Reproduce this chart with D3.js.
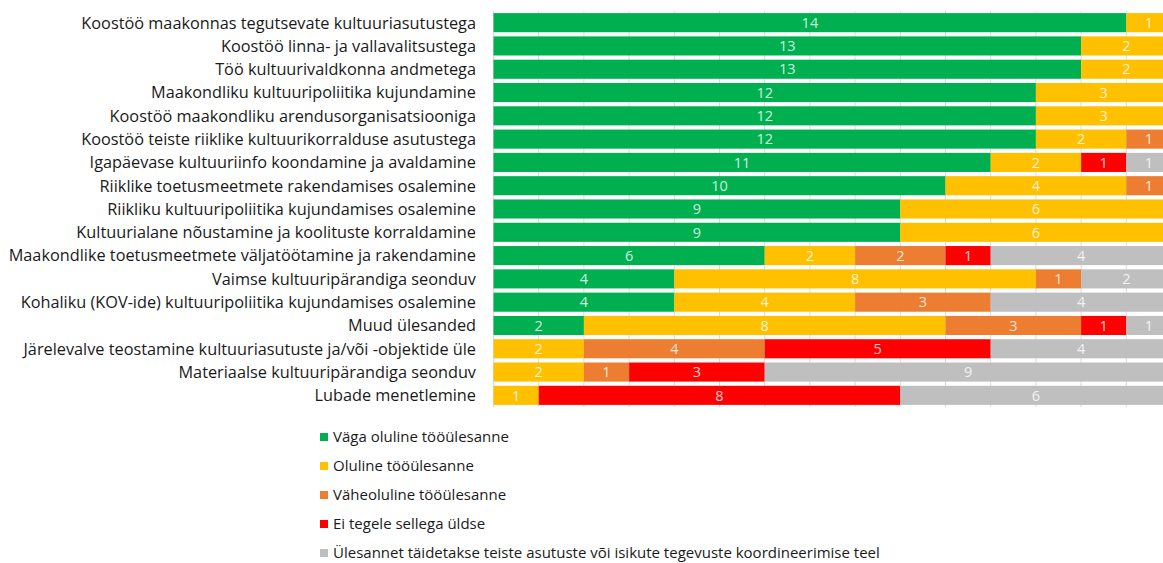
<!DOCTYPE html>
<html>
<head>
<meta charset="utf-8">
<script src="https://cdn.jsdelivr.net/npm/d3@7"></script>
<style>
  html, body { margin: 0; padding: 0; background: #fff; }
  svg { display: block; font-family: "Segoe UI", "Open Sans", sans-serif; }
</style>
</head>
<body>
<div id="chart"></div>
<script>
// categories (top to bottom)
const categories = [
  'Koostöö maakonnas tegutsevate kultuuriasutustega',
  'Koostöö linna- ja vallavalitsustega',
  'Töö kultuurivaldkonna andmetega',
  'Maakondliku kultuuripoliitika kujundamine',
  'Koostöö maakondliku arendusorganisatsiooniga',
  'Koostöö teiste riiklike kultuurikorralduse asutustega',
  'Igapäevase kultuuriinfo koondamine ja avaldamine',
  'Riiklike toetusmeetmete rakendamises osalemine',
  'Riikliku kultuuripoliitika kujundamises osalemine',
  'Kultuurialane nõustamine ja koolituste korraldamine',
  'Maakondlike toetusmeetmete väljatöötamine ja rakendamine',
  'Vaimse kultuuripärandiga seonduv',
  'Kohaliku (KOV-ide) kultuuripoliitika kujundamises osalemine',
  'Muud ülesanded',
  'Järelevalve teostamine kultuuriasutuste ja/või -objektide üle',
  'Materiaalse kultuuripärandiga seonduv',
  'Lubade menetlemine'
]

const seriesNames = [
  'Väga oluline tööülesanne',
  'Oluline tööülesanne',
  'Väheoluline tööülesanne',
  'Ei tegele sellega üldse',
  'Ülesannet täidetakse teiste asutuste või isikute tegevuste koordineerimise teel'
]

const seriesColors = ['#00b050', '#ffc000', '#ed7d31', '#ff0000', '#bfbfbf']

// one array per series, aligned with categories
const vagaOluline  = [14, 13, 13, 12, 12, 12, 11, 10, 9, 9, 6, 4, 4, 2, 0, 0, 0]
const oluline      = [1, 2, 2, 3, 3, 2, 2, 4, 6, 6, 2, 8, 4, 8, 2, 2, 1]
const vaheoluline  = [0, 0, 0, 0, 0, 1, 0, 1, 0, 0, 2, 1, 3, 3, 4, 1, 0]
const eiTegele     = [0, 0, 0, 0, 0, 0, 1, 0, 0, 0, 1, 0, 0, 1, 5, 3, 8]
const koordineerib = [0, 0, 0, 0, 0, 0, 1, 0, 0, 0, 4, 2, 4, 1, 4, 9, 6]

const seriesValues = [vagaOluline, oluline, vaheoluline, eiTegele, koordineerib]

const width = 1163
const height = 563
const margin = { top: 11, left: 493.5 }
const plotRight = 1171.5
const plotBottom = 407

const rows = categories.map((c, i) => {
  const r = { name: c }
  seriesValues.forEach((vals, s) => { r['s' + s] = vals[i] })
  return r
})
const keys = seriesValues.map((_, s) => 's' + s)
const stacked = d3.stack().keys(keys)(rows)

const x = d3.scaleLinear().domain([0, 15]).range([margin.left, plotRight])
const y = d3.scaleBand().domain(categories).range([margin.top, plotBottom]).paddingInner(0.18).paddingOuter(0.09)

const svg = d3.select('#chart').append('svg')
  .attr('width', width)
  .attr('height', height)

// vertical gridlines
svg.append('g')
  .selectAll('line')
  .data(d3.range(0, 16))
  .join('line')
  .attr('x1', d => x(d))
  .attr('x2', d => x(d))
  .attr('y1', margin.top)
  .attr('y2', plotBottom)
  .attr('stroke', '#d9d9d9')
  .attr('stroke-width', 1)

// bars
const layer = svg.append('g')
  .selectAll('g')
  .data(stacked)
  .join('g')
  .attr('fill', (d, i) => seriesColors[i])

layer.selectAll('rect')
  .data(d => d)
  .join('rect')
  .attr('x', d => x(d[0]))
  .attr('width', d => x(d[1]) - x(d[0]))
  .attr('y', d => y(d.data.name))
  .attr('height', y.bandwidth())

// data labels
layer.selectAll('text')
  .data(d => d.filter(p => p[1] - p[0] > 0))
  .join('text')
  .attr('x', d => (x(d[0]) + x(d[1])) / 2)
  .attr('y', d => y(d.data.name) + y.bandwidth() / 2)
  .attr('dy', '0.36em')
  .attr('text-anchor', 'middle')
  .attr('fill', '#ffffff')
  .attr('fill-opacity', 0.82)
  .attr('font-size', 14.5)
  .text(d => d[1] - d[0])

// category axis labels
svg.append('g')
  .selectAll('text')
  .data(categories)
  .join('text')
  .attr('x', 476)
  .attr('y', d => y(d) + y.bandwidth() / 2)
  .attr('dy', '0.36em')
  .attr('text-anchor', 'end')
  .attr('fill', '#1a1a1a')
  .attr('font-size', 16.3)
  .text(d => d)

// legend
const legend = svg.append('g')
  .selectAll('g')
  .data(seriesNames)
  .join('g')
  .attr('transform', (d, i) => `translate(320, ${437 + i * 29})`)

legend.append('rect')
  .attr('x', 0)
  .attr('y', -4)
  .attr('width', 8)
  .attr('height', 8)
  .attr('fill', (d, i) => seriesColors[i])

legend.append('text')
  .attr('x', 13)
  .attr('y', 0)
  .attr('dy', '0.36em')
  .attr('fill', '#1a1a1a')
  .attr('font-size', 15)
  .text(d => d)
</script>
</body>
</html>
